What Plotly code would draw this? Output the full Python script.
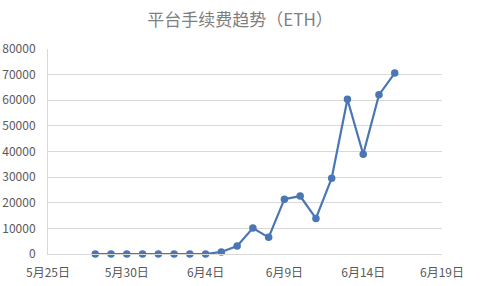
import plotly.graph_objects as go

dates = ["2018-05-28", "2018-05-29", "2018-05-30", "2018-05-31", "2018-06-01",
         "2018-06-02", "2018-06-03", "2018-06-04", "2018-06-05", "2018-06-06",
         "2018-06-07", "2018-06-08", "2018-06-09", "2018-06-10", "2018-06-11",
         "2018-06-12", "2018-06-13", "2018-06-14", "2018-06-15", "2018-06-16"]
fees = [0, 0, 0, 0, 0, 0, 0, 0, 800, 3100,
        10100, 6500, 21400, 22600, 13900, 29600, 60400, 38900, 62100, 70600]

tick_vals = ["2018-05-25", "2018-05-30", "2018-06-04", "2018-06-09", "2018-06-14", "2018-06-19"]
tick_text = ["5月25日", "5月30日", "6月4日", "6月9日", "6月14日", "6月19日"]
y_ticks = [0, 10000, 20000, 30000, 40000, 50000, 60000, 70000, 80000]
y_text = ["0", "10000", "20000", "30000", "40000", "50000", "60000", "70000", "80000"]

font_family = "Noto Sans CJK SC, Noto Sans, sans-serif"
grey = "#595959"
blue = "#4a76b4"

fig = go.Figure()
fig.add_trace(go.Scatter(
    x=dates, y=fees, mode="lines+markers",
    line=dict(color=blue, width=2.2),
    marker=dict(color=blue, size=7.5),
    showlegend=False, cliponaxis=False,
))

fig.update_layout(
    width=480, height=286,
    margin=dict(l=48, r=38, t=49, b=32),
    paper_bgcolor="white", plot_bgcolor="white",
    font=dict(family=font_family, color=grey, size=12),
    title=dict(text="平台手续费趋势（ETH）", x=0.5, xanchor="center",
               y=0.93, yanchor="middle",
               font=dict(size=17, color="#7f7f7f", family=font_family)),
    xaxis=dict(
        type="date", range=["2018-05-25", "2018-06-19"],
        tickvals=tick_vals, ticktext=tick_text,
        showgrid=False, showline=True, linecolor="#d9d9d9", linewidth=1,
        ticks="", zeroline=False, automargin=False,
        tickfont=dict(size=12, color=grey),
        ticklabelstandoff=8,
    ),
    yaxis=dict(
        range=[0, 80000], tickvals=y_ticks, ticktext=y_text,
        showgrid=True, gridcolor="#d9d9d9", gridwidth=1,
        showline=True, linecolor="#d9d9d9", linewidth=1,
        zeroline=False, ticks="", automargin=False,
        tickfont=dict(size=12, color=grey),
        ticklabelstandoff=9,
    ),
)

fig.write_html("out.html")
